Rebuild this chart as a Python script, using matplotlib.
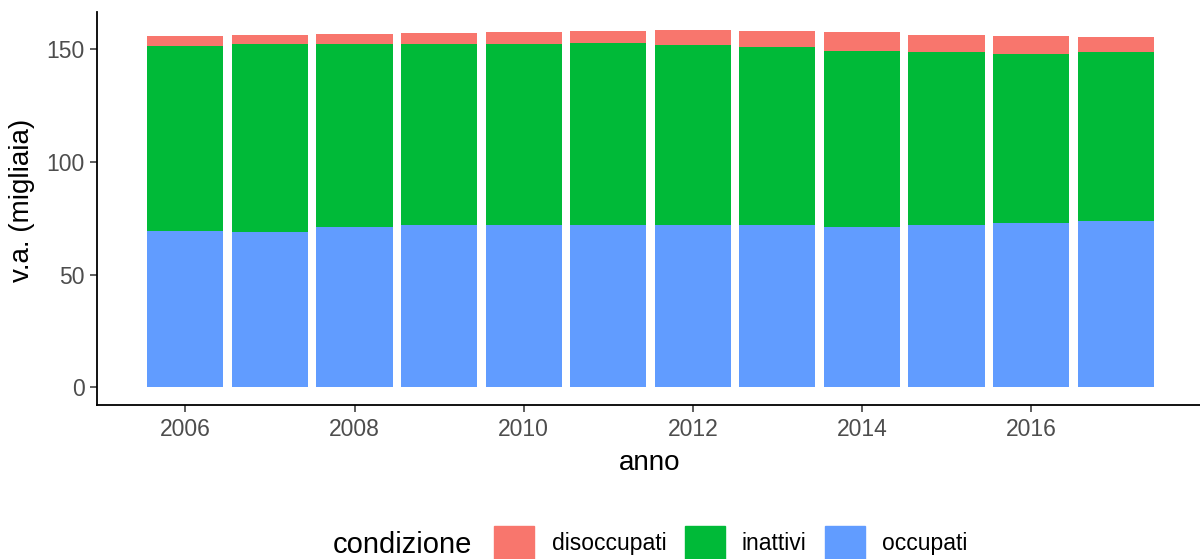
import numpy as np
import matplotlib
matplotlib.use("Agg")
import matplotlib.pyplot as plt
from matplotlib.patches import Patch

plt.rcParams['font.family'] = ['Liberation Sans', 'DejaVu Sans']

# data (migliaia)
anni = np.arange(2006, 2018)
occupati = [69.4, 68.8, 71.1, 72.0, 72.0, 72.0, 71.8, 71.8, 71.1, 72.0, 72.9, 73.8]
inattivi = [82.1, 83.4, 81.3, 80.4, 80.4, 80.7, 80.1, 79.4, 78.0, 76.8, 75.0, 74.9]
disoccupati = [4.4, 4.0, 4.4, 5.0, 5.3, 5.6, 6.7, 7.1, 8.6, 7.6, 8.0, 6.8]

col_dis = '#F8766D'
col_ina = '#00BA38'
col_occ = '#619CFF'

fig = plt.figure(figsize=(12, 5.59), dpi=100)
ax = fig.add_axes([97/1200, 1 - 405/559, 1107/1200, 393/559])

occ = np.array(occupati)
ina = np.array(inattivi)
dis = np.array(disoccupati)
ax.bar(anni, occ, width=0.9, color=col_occ)
ax.bar(anni, ina, width=0.9, bottom=occ, color=col_ina)
ax.bar(anni, dis, width=0.9, bottom=occ + ina, color=col_dis)

top = (occ + ina + dis).max()
ax.set_ylim(-0.05 * top, 1.05 * top)
ax.set_xlim(2005.55 - 0.595, 2017.45 + 0.595)
ax.set_xticks([2006, 2008, 2010, 2012, 2014, 2016])
ax.set_yticks([0, 50, 100, 150])

for s in ['top', 'right']:
    ax.spines[s].set_visible(False)
for s in ['left', 'bottom']:
    ax.spines[s].set_linewidth(1.3)
    ax.spines[s].set_color('black')
ax.tick_params(axis='both', colors='#333333', labelcolor='#4D4D4D',
               labelsize=16.5, length=5, width=1.1, pad=4)

fig.text(650/1200, 1 - 463/559, 'anno', ha='center', va='center', fontsize=20)
fig.text(22/1200, 1 - 200/559, 'v.a. (migliaia)', ha='center', va='center',
         rotation=90, fontsize=20)

fig.text(333/1200, 1 - 553/559, 'condizione', ha='left', va='baseline', fontsize=21)
handles = [Patch(color=col_dis), Patch(color=col_ina), Patch(color=col_occ)]
fig.legend(handles, ['disoccupati', 'inattivi', 'occupati'], ncol=3,
           loc='center', bbox_to_anchor=(731/1200, 1 - 543/559),
           frameon=False, fontsize=16.5, handlelength=1.75, handleheight=1.85,
           handletextpad=0.75, columnspacing=0.8, borderpad=0)

fig.savefig('out.png', dpi=100)
